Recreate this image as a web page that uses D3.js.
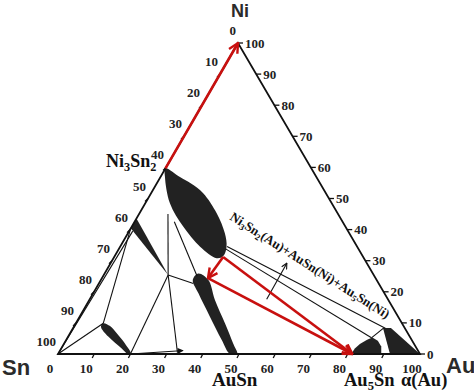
<!DOCTYPE html>
<html>
<head>
<meta charset="utf-8">
<script src="https://cdn.jsdelivr.net/npm/d3@7"></script>
<style>
  body { margin: 0; background: #fff; }
  svg { display: block; }
  .tick-label { font-family: "Liberation Serif", "Times New Roman", serif; font-weight: bold; font-size: 13px; fill: #222; }
  .corner { font-family: "Liberation Sans", Arial, sans-serif; font-weight: bold; fill: #2b2b2b; }
  .phase { font-family: "Liberation Serif", "Times New Roman", serif; font-weight: bold; fill: #111; }
</style>
</head>
<body>
<div id="chart"></div>
<script>
// compositions are [Au at.%, Ni at.%], Sn is the rest
const axisTicks = [0, 10, 20, 30, 40, 50, 60, 70, 80, 90, 100];

const ni3sn2Phase = [[0, 59.7], [5.4, 56.9], [9.5, 54.8], [14.4, 51.7], [21.4, 45.2], [26.8, 38.8],
  [29.4, 34.5], [30, 31.5], [28.5, 30.8], [22.1, 34.5], [14.3, 40.9], [6.8, 48.5], [1.2, 57]];
const ausnPhase = [[25.9, 25.9], [29.7, 23.8], [34.7, 17.4], [41.2, 9.9], [46.7, 3.4], [49.5, 0],
  [47.5, 0], [43.0, 4.5], [36.0, 12], [29.1, 19.5], [25.4, 23.8]];
const wedgePhase = [[0, 43.6], [17.8, 25.4], [0, 40.4]];
const smallPhase = [[7.6, 9.9], [9.9, 9.0], [12.9, 6.7], [16.8, 3.4], [20.2, 0], [19.3, 0],
  [16.7, 1.8], [11.1, 5.6], [7.5, 8.8]];
const au5snPhase = [[81, 0], [81.1, 1.8], [81.8, 3.2], [83.1, 4.6], [84.2, 5.3], [86.2, 4.3],
  [88.1, 2.4], [89.3, 0]];
const alphaAuPhase = [[85.6, 8.4], [87.8, 8.4], [100, 0], [91.7, 0]];

const tieLines = [
  [[0, 0], [1, 39.5]],
  [[0, 0], [7.6, 9.9]],
  [[0, 40.4], [7.6, 9.9]],
  [[17.8, 25.4], [20, 0]],
  [[17.8, 25.4], [26.1, 22.7]],
  [[8, 45], [17.8, 25.4]],
  [[17.8, 25.4], [32.8, 0.4]],
  [[11, 42.5], [26, 25]],
  [[29.5, 34.6], [86.3, 8.3]],
  [[29.5, 33.8], [84, 5.2]],
  [[84, 5.2], [85.8, 8.3]]
];
const shortArrow = [[20, 0], [34, 1.1]];
const upArrow = [[48.9, 17.6], [48.7, 29.2]];

const redArrows = [
  [[0, 59.7], [0, 100]],
  [[30.1, 31.2], [29.3, 24.4]],
  [[30.1, 31.2], [81.3, 0]],
  [[29.3, 24.4], [81.3, 0]]
];

const width = 474, height = 392;
const sn = { x: 58, y: 354 }, au = { x: 420, y: 354 }, ni = { x: 238, y: 43 };

const xAu = d3.scaleLinear().domain([0, 100]).range([0, au.x - sn.x]);
const xNi = d3.scaleLinear().domain([0, 100]).range([0, ni.x - sn.x]);
const yNi = d3.scaleLinear().domain([0, 100]).range([sn.y, ni.y]);
const project = d => [sn.x + xAu(d[0]) + xNi(d[1]), yNi(d[1])];

const svg = d3.select("#chart").append("svg")
  .attr("width", width)
  .attr("height", height);

const defs = svg.append("defs");
defs.append("marker")
  .attr("id", "redHead")
  .attr("viewBox", "0 0 10 10")
  .attr("refX", 9).attr("refY", 5)
  .attr("markerWidth", 12).attr("markerHeight", 12)
  .attr("markerUnits", "userSpaceOnUse")
  .attr("orient", "auto")
  .append("path")
  .attr("d", "M1,1 L9,5 L1,9")
  .attr("fill", "none")
  .attr("stroke", "#c8100f")
  .attr("stroke-width", 2);
defs.append("marker")
  .attr("id", "blackHead")
  .attr("viewBox", "0 0 10 10")
  .attr("refX", 9).attr("refY", 5)
  .attr("markerWidth", 7).attr("markerHeight", 7)
  .attr("markerUnits", "userSpaceOnUse")
  .attr("orient", "auto")
  .append("path")
  .attr("d", "M1,1 L9,5 L1,9")
  .attr("fill", "none")
  .attr("stroke", "#111")
  .attr("stroke-width", 1.6);
defs.append("marker")
  .attr("id", "solidHead")
  .attr("viewBox", "0 0 10 10")
  .attr("refX", 9).attr("refY", 5)
  .attr("markerWidth", 8).attr("markerHeight", 6)
  .attr("markerUnits", "userSpaceOnUse")
  .attr("orient", "auto")
  .append("path")
  .attr("d", "M0,0 L10,5 L0,10 z")
  .attr("fill", "#111");

const line = d3.line().x(d => project(d)[0]).y(d => project(d)[1]);
const blob = d3.line().x(d => project(d)[0]).y(d => project(d)[1]).curve(d3.curveCatmullRomClosed.alpha(0.5));
const poly = d3.line().x(d => project(d)[0]).y(d => project(d)[1]).curve(d3.curveLinearClosed);

// phase fields
const phases = svg.append("g").attr("fill", "#222");
[ni3sn2Phase, ausnPhase, smallPhase].forEach(p => phases.append("path").attr("d", blob(p)));
[wedgePhase, au5snPhase, alphaAuPhase].forEach(p => phases.append("path").attr("d", poly(p)));

// tie lines
svg.append("g")
  .selectAll("path")
  .data(tieLines)
  .enter().append("path")
  .attr("d", line)
  .attr("fill", "none")
  .attr("stroke", "#111")
  .attr("stroke-width", 1.1);

svg.append("path").attr("d", line(shortArrow))
  .attr("stroke", "#111").attr("stroke-width", 1).attr("marker-end", "url(#solidHead)");
svg.append("path").attr("d", line(upArrow))
  .attr("stroke", "#111").attr("stroke-width", 1.1).attr("marker-end", "url(#blackHead)");

// triangle frame
svg.append("path")
  .attr("d", poly([[0, 0], [100, 0], [0, 100]]))
  .attr("fill", "none")
  .attr("stroke", "#111")
  .attr("stroke-width", 1.8);

// ticks and labels
const ticks = svg.append("g").attr("stroke", "#111").attr("stroke-width", 1.3);
const labels = svg.append("g");

axisTicks.forEach(t => {
  // bottom: Au
  const b = project([t, 0]);
  if (t > 0 && t < 100) ticks.append("line").attr("x1", b[0]).attr("y1", b[1]).attr("x2", b[0] - 2).attr("y2", b[1] + 4);
  labels.append("text").attr("class", "tick-label")
    .attr("x", b[0] - 8).attr("y", b[1] + 19)
    .attr("text-anchor", "middle").text(t);

  // left: Sn
  const l = project([0, 100 - t]);
  if (t > 0 && t < 100) ticks.append("line").attr("x1", l[0]).attr("y1", l[1]).attr("x2", l[0] - 3).attr("y2", l[1] + 3);
  labels.append("text").attr("class", "tick-label")
    .attr("x", l[0] - 2).attr("y", l[1] - 8)
    .attr("text-anchor", "end").text(t);

  // right: Ni
  const r = project([100 - t, t]);
  ticks.append("line").attr("x1", r[0]).attr("y1", r[1]).attr("x2", r[0] + 5).attr("y2", r[1]);
  labels.append("text").attr("class", "tick-label")
    .attr("x", r[0] + 7).attr("y", r[1] + 4.5)
    .attr("text-anchor", "start").text(t);
});

// red arrows
svg.append("g")
  .selectAll("path")
  .data(redArrows)
  .enter().append("path")
  .attr("d", line)
  .attr("fill", "none")
  .attr("stroke", "#c8100f")
  .attr("stroke-width", 2.6)
  .attr("marker-end", "url(#redHead)");

// corner names
svg.append("text").attr("class", "corner").attr("x", ni.x + 2).attr("y", 17)
  .attr("text-anchor", "middle").attr("font-size", 18).text("Ni");
svg.append("text").attr("class", "corner").attr("x", 2).attr("y", 375)
  .attr("font-size", 22).text("Sn");
svg.append("text").attr("class", "corner").attr("x", 446).attr("y", 373)
  .attr("font-size", 22).text("Au");

// phase names, subscripts shift the baseline and the next part shifts it back
function phaseLabel(x, y, size, parts, anchor) {
  const t = svg.append("text").attr("class", "phase")
    .attr("x", x).attr("y", y).attr("font-size", size)
    .attr("text-anchor", anchor || "start");
  const drop = size * 0.22;
  let low = false;
  parts.forEach(p => {
    const s = t.append("tspan");
    if (p.sub) {
      s.attr("font-size", size * 0.68).attr("dy", low ? 0 : drop).text(p.sub);
      low = true;
    } else {
      s.attr("dy", low ? -drop : 0).text(p.text);
      low = false;
    }
  });
  return t;
}

phaseLabel(106, 167, 18, [{ text: "Ni" }, { sub: "3" }, { text: "Sn" }, { sub: "2" }]);
phaseLabel(212, 386, 19, [{ text: "AuSn" }]);
phaseLabel(344, 386, 18.5, [{ text: "Au" }, { sub: "5" }, { text: "Sn" }]);
phaseLabel(401, 386, 18.5, [{ text: "\u03b1(Au)" }]);

phaseLabel(0, 0, 13, [{ text: "Ni" }, { sub: "3" }, { text: "Sn" }, { sub: "2" },
  { text: "(Au)+AuSn(Ni)+Au" }, { sub: "5" }, { text: "Sn(Ni)" }])
  .attr("transform", "translate(229,219) rotate(32.5)");
</script>
</body>
</html>
